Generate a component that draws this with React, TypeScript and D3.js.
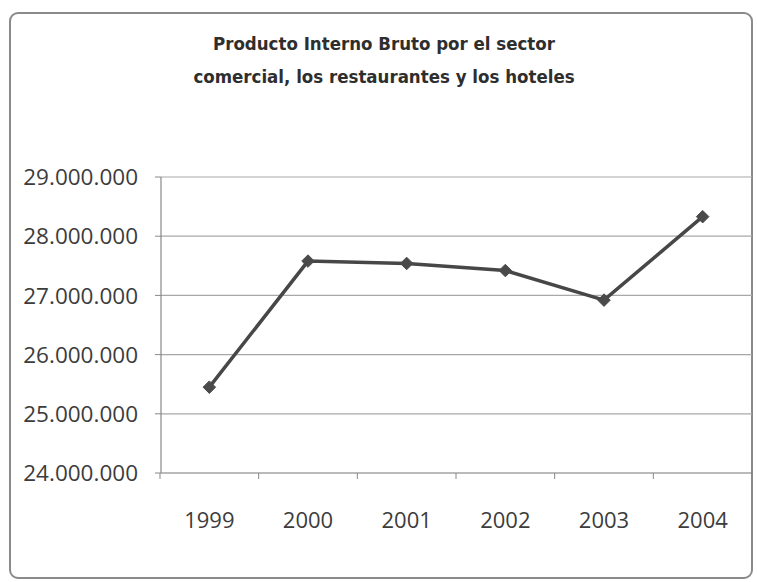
import React from "react";
import * as d3 from "d3";

const years = ["1999", "2000", "2001", "2002", "2003", "2004"];
const pib = [25450000, 27580000, 27540000, 27420000, 26920000, 28330000];
const yTicks = [24000000, 25000000, 26000000, 27000000, 28000000, 29000000];
const titleLines = [
  "Producto Interno Bruto por el sector",
  "comercial, los restaurantes y los hoteles",
];

const W = 757;
const H = 582;
const plot = { left: 161, right: 752, top: 177, bottom: 473 };

const fmt = d3
  .formatLocale({ decimal: ",", thousands: ".", grouping: [3], currency: ["", ""] })
  .format(",");

export default function App() {
  const x = d3.scaleBand<string>().domain(years).range([plot.left - 1, plot.right]).padding(0);
  const y = d3.scaleLinear().domain([24000000, 29000000]).range([plot.bottom, plot.top]);
  const cx = (yr: string) => (x(yr) as number) + x.bandwidth() / 2;
  const line = d3
    .line<number>()
    .x((_, i) => cx(years[i]))
    .y((d) => y(d));
  const diamond = d3.symbol().type(d3.symbolDiamond2).size(100)();
  const boundaries = years.map((yr) => x(yr) as number).concat([plot.right]);

  return (
    <svg
      width={W}
      height={H}
      style={{ position: "absolute", left: 0, top: 0, background: "#fff" }}
    >
      <rect x={0} y={0} width={W} height={H} fill="#fff" />
      <rect
        x={10}
        y={13}
        width={742}
        height={565}
        rx={8}
        fill="none"
        stroke="#8a8a8a"
        strokeWidth={2}
      />
      {titleLines.map((t, i) => (
        <text
          key={i}
          x={384}
          y={50 + i * 33}
          textAnchor="middle"
          fontFamily="'Liberation Sans Narrow', 'DejaVu Sans Condensed', 'Roboto Condensed', sans-serif"
          fontWeight="bold"
          fontSize={18.5}
          fill="#2e2e2e"
        >
          {t}
        </text>
      ))}
      {yTicks.map((v) => (
        <g key={v}>
          <line
            x1={plot.left}
            x2={plot.right}
            y1={y(v)}
            y2={y(v)}
            stroke={v === 24000000 ? "#777" : "#a8a8a8"}
            strokeWidth={1.2}
          />
          <line x1={plot.left - 6} x2={plot.left} y1={y(v)} y2={y(v)} stroke="#888" />
          <text
            x={138}
            y={y(v)}
            dy="0.36em"
            textAnchor="end"
            fontFamily="'Open Sans', 'Noto Sans', sans-serif"
            fontSize={22.5}
            fill="#3c3c3c"
          >
            {fmt(v)}
          </text>
        </g>
      ))}
      <line x1={plot.left} x2={plot.left} y1={plot.top} y2={plot.bottom} stroke="#888" strokeWidth={1.2} />
      {boundaries.map((b, i) => (
        <line key={i} x1={b} x2={b} y1={plot.bottom} y2={plot.bottom + 6} stroke="#888" />
      ))}
      {years.map((yr) => (
        <text
          key={yr}
          x={cx(yr)}
          y={528}
          textAnchor="middle"
          fontFamily="'Open Sans', 'Noto Sans', sans-serif"
          fontSize={22}
          fill="#3c3c3c"
        >
          {yr}
        </text>
      ))}
      <path d={line(pib) || ""} fill="none" stroke="#474747" strokeWidth={3.5} />
      {pib.map((v, i) => (
        <path
          key={i}
          d={diamond || ""}
          transform={`translate(${cx(years[i])},${y(v)})`}
          fill="#4a4a4a"
          stroke="#4a4a4a"
        />
      ))}
    </svg>
  );
}
